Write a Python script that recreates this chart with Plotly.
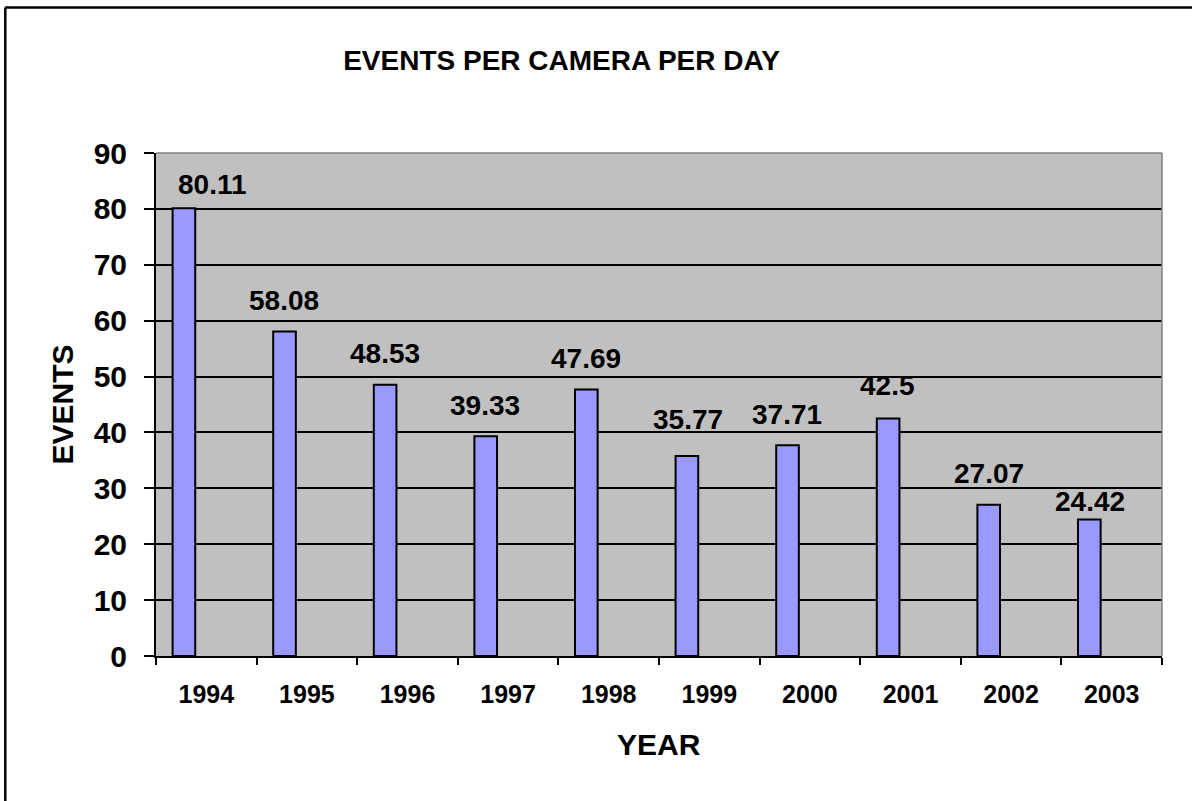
import plotly.graph_objects as go

years = ["1994", "1995", "1996", "1997", "1998", "1999", "2000", "2001", "2002", "2003"]
events = [80.11, 58.08, 48.53, 39.33, 47.69, 35.77, 37.71, 42.5, 27.07, 24.42]
y_ticks = [0, 10, 20, 30, 40, 50, 60, 70, 80, 90]

FONT = "Liberation Sans, Arial, sans-serif"

# label placement (pixel shifts relative to category centre / bar top)
label_dx = [6, -23, -23, -23, -22.5, -21, -23, -22.7, -22.4, -21.7]
label_dy = [24, 31, 31, 31, 31, 36.5, 30.5, 32.5, 31.3, 18]

fig = go.Figure()
fig.add_trace(go.Bar(
    x=years, y=events,
    width=0.225, offset=-0.335,
    marker=dict(color="#9999FF", line=dict(color="black", width=2)),
    hoverinfo="x+y",
))

annotations = []
for i, (v, dx, dy) in enumerate(zip(events, label_dx, label_dy)):
    annotations.append(dict(
        x=i, y=v, xref="x", yref="y", text=str(v), showarrow=False,
        xanchor="center", yanchor="middle", xshift=dx, yshift=dy,
        font=dict(family=FONT, size=28, color="black", weight="bold"),
    ))

annotations.append(dict(
    x=(62 - 156) / 1006, y=0.5, xref="paper", yref="paper", text="EVENTS",
    textangle=-90, showarrow=False, xanchor="center", yanchor="middle",
    font=dict(family=FONT, size=30, color="black", weight="bold"),
))
annotations.append(dict(
    x=0.5, y=(656.5 - 745) / 503.8, xref="paper", yref="paper", text="YEAR",
    showarrow=False, xanchor="center", yanchor="middle",
    font=dict(family=FONT, size=30, color="black", weight="bold"),
))

shapes = [
    dict(type="line", xref="paper", yref="paper", x0=0, x1=1, y0=1, y1=1,
         line=dict(color="#808080", width=1.5), layer="above"),
    dict(type="line", xref="paper", yref="paper", x0=1, x1=1, y0=0, y1=1,
         line=dict(color="#808080", width=1.5), layer="above"),
    # outer chart frame
    dict(type="line", xref="paper", yref="paper",
         x0=(5.3 - 156) / 1006, x1=(1200 - 156) / 1006,
         y0=(656.5 - 7) / 503.8, y1=(656.5 - 7) / 503.8,
         line=dict(color="black", width=2.5)),
    dict(type="line", xref="paper", yref="paper",
         x0=(5.3 - 156) / 1006, x1=(5.3 - 156) / 1006,
         y0=(656.5 - 7) / 503.8, y1=(656.5 - 810) / 503.8,
         line=dict(color="black", width=2.5)),
]

fig.update_layout(
    width=1192, height=801,
    margin=dict(l=156, r=30, t=153, b=144.5),
    paper_bgcolor="white",
    plot_bgcolor="#C0C0C0",
    showlegend=False,
    title=dict(
        text="EVENTS PER CAMERA PER DAY",
        x=561.5 / 1192, xref="container", xanchor="center",
        y=1 - 60 / 801, yref="container", yanchor="middle",
        font=dict(family=FONT, size=28, color="black", weight="bold"),
    ),
    xaxis=dict(
        type="category", categoryorder="array", categoryarray=years,
        range=[-0.5, 9.5],
        showline=True, linecolor="black", linewidth=2,
        ticks="outside", tickson="boundaries", ticklen=7, tickwidth=1.5, tickcolor="black",
        ticklabelstandoff=15,
        showgrid=False, zeroline=False,
        tickfont=dict(family=FONT, size=25, color="black", weight="bold"),
    ),
    yaxis=dict(
        range=[0, 90], tickvals=y_ticks,
        showline=True, linecolor="black", linewidth=2,
        ticks="outside", ticklen=10, tickwidth=1.5, tickcolor="black",
        ticklabelstandoff=11,
        showgrid=True, gridcolor="black", gridwidth=1.5,
        zeroline=False,
        tickfont=dict(family=FONT, size=30, color="black", weight="bold"),
    ),
    annotations=annotations,
    shapes=shapes,
)

fig.write_html(
    "out.html",
    config={"displayModeBar": False},
    post_script="document.body.style.margin='0';document.body.style.overflow='hidden';",
)
